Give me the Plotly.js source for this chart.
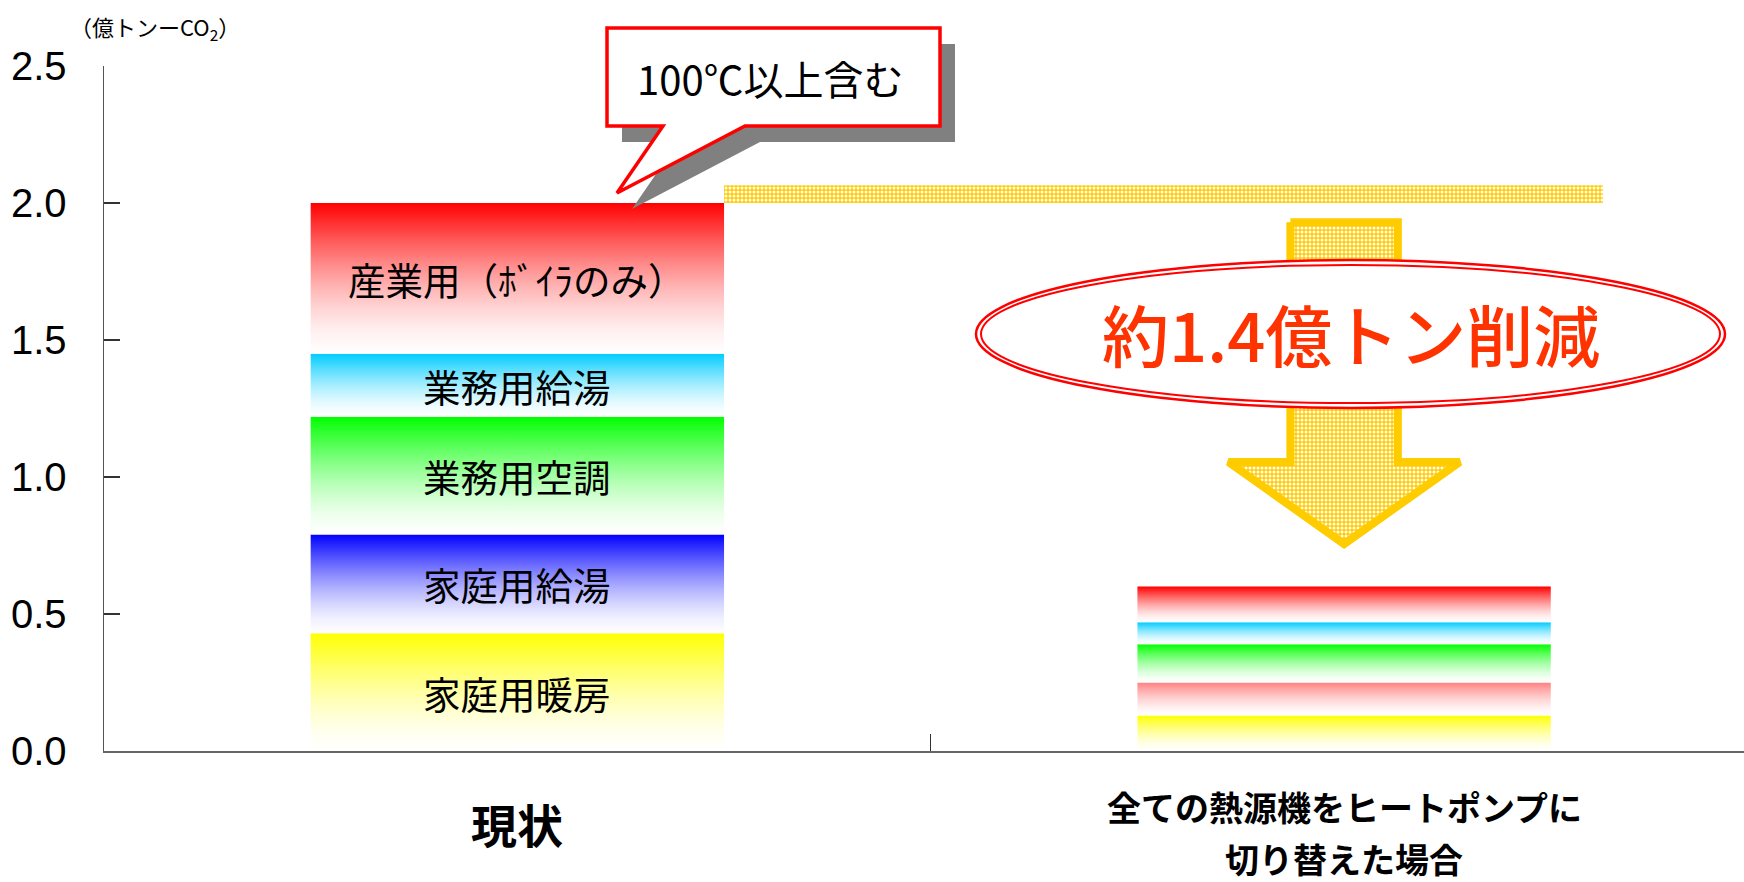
<!DOCTYPE html>
<html><head><meta charset="utf-8">
<script src="https://cdn.plot.ly/plotly-3.0.1.min.js"></script>
<style>html,body{margin:0;padding:0;background:#fff;} #chart{width:1744px;height:882px;}</style>
</head><body><div id="chart"></div>
<script>
// ---------- data ----------
const categories = ['現状', '全ての熱源機をヒートポンプに<br>切り替えた場合'];
const segments = ['家庭用暖房', '家庭用給湯', '業務用空調', '業務用給湯', '産業用（ﾎﾞｲﾗのみ）'];
const currentValues = [0.43, 0.36, 0.43, 0.23, 0.55];
const heatPumpValues = [0.13, 0.12, 0.14, 0.08, 0.13];
const yTickValues = [0, 0.5, 1.0, 1.5, 2.0, 2.5];
const yUnitText = '（億トンーCO<sub>2</sub>）';
const calloutText = '100℃以上含む';

// ---------- styles ----------
const currentColors = ['#FFFF00', '#0000FF', '#00FF00', '#00CCFF', '#FF0000'];
const heatPumpColors = ['#FFFF00', '#FF8080', '#00FF00', '#00CCFF', '#FF0000'];
const JP = '"Noto Sans CJK JP", "Noto Sans", sans-serif';
const NUM = '"Liberation Sans Narrow", "Arial Narrow", "Liberation Sans", Arial, sans-serif';

const W = 1744, H = 882, ML = 104, MR = 0, MT = 66, MB = 131;
const XR = [-0.5, 1.4837], YR = [0, 2.5];
const plotW = W - ML - MR, plotH = H - MT - MB;
const px2x = px => XR[0] + (px - ML) / plotW * (XR[1] - XR[0]);
const px2y = py => YR[0] + (H - MB - py) / plotH * (YR[1] - YR[0]);
const pX = px => (px - ML) / plotW;
const pY = py => (H - MB - py) / plotH;
const sum = a => a.reduce((s, v) => s + v, 0);

function hex2rgb(h) { h = h.replace('#', ''); return [0, 2, 4].map(i => parseInt(h.substr(i, 2), 16)); }
function gradScale(c) {
  const [r, g, b] = hex2rgb(c);
  return [0, 0.15, 0.3, 0.45, 0.6, 0.75, 0.9, 1].map(t => {
    const f = Math.pow(t, 1.5);
    const m = (v) => Math.round(255 + (v - 255) * f);
    return [t, `rgb(${m(r)},${m(g)},${m(b)})`];
  });
}

const barWidth = 0.5;
function stackTraces(values, colors, xc) {
  let base = 0;
  return values.map((v, i) => {
    const y0 = base, y1 = base + v; base = y1;
    const xl = xc - barWidth / 2, xr = xc + barWidth / 2;
    return {
      type: 'scatter', mode: 'none', x: [xl, xr, xr, xl, xl], y: [y0, y0, y1, y1, y0],
      fill: 'toself', fillcolor: colors[i],
      fillgradient: { type: 'vertical', colorscale: gradScale(colors[i]) },
      name: segments[i], hoverinfo: 'name', showlegend: false
    };
  });
}

const total0 = sum(currentValues), total1 = sum(heatPumpValues);
const traces = [].concat(stackTraces(currentValues, currentColors, 0), stackTraces(heatPumpValues, heatPumpColors, 1));

// dotted level band at the current total
const bandX0 = barWidth / 2, bandX1 = px2x(1603), bandY1 = total0 + 0.065;
traces.push({
  type: 'scatter', mode: 'none', xaxis: 'x2', yaxis: 'y',
  x: [bandX0, bandX1, bandX1, bandX0, bandX0], y: [total0, total0, bandY1, bandY1, total0],
  fill: 'toself', fillcolor: '#FFCC00',
  fillpattern: { shape: '.', bgcolor: '#FFCC00', fgcolor: '#FFFFFF', size: 4, solidity: 0.45 },
  hoverinfo: 'skip', showlegend: false
});

// reduction arrow
const ax = 1, sh = 0.065, hh = 0.14;
const yTop = total0 - 0.07, yTip = total1 + 0.155, yHead = yTip + 0.3;
traces.push({
  type: 'scatter', mode: 'lines',
  x: [ax - sh, ax + sh, ax + sh, ax + hh, ax, ax - hh, ax - sh, ax - sh],
  y: [yTop, yTop, yHead, yHead, yTip, yHead, yHead, yTop],
  line: { color: '#FFCC00', width: 8, shape: 'linear' },
  fill: 'toself', fillcolor: '#FFCC00',
  fillpattern: { shape: '.', bgcolor: '#FFCC00', fgcolor: '#FFFFFF', size: 4, solidity: 0.45 },
  hoverinfo: 'skip', showlegend: false
});

// ---------- shapes ----------
function pathPx(pts) { return 'M' + pts.map(p => pX(p[0]).toFixed(5) + ',' + pY(p[1]).toFixed(5)).join(' L') + ' Z'; }
const bubble = [[607, 28], [940, 28], [940, 126], [745, 126], [617, 193], [663, 126], [607, 126]];
const shadow = bubble.map(p => [p[0] + 15, p[1] + 16]);
const shapes = [
  { type: 'path', xref: 'paper', yref: 'paper', path: pathPx(shadow), fillcolor: '#808080', line: { width: 0 }, layer: 'above' },
  { type: 'path', xref: 'paper', yref: 'paper', path: pathPx(bubble), fillcolor: '#FFFFFF', line: { color: '#FF0000', width: 3.5 }, layer: 'above' },
  { type: 'circle', xref: 'x', yref: 'y', x0: px2x(976), x1: px2x(1725), y0: px2y(408), y1: px2y(260), fillcolor: '#FFFFFF', line: { color: '#FF0000', width: 2.5 }, layer: 'above' },
  { type: 'circle', xref: 'x', yref: 'y', x0: px2x(981), x1: px2x(1720), y0: px2y(403), y1: px2y(265), fillcolor: 'rgba(0,0,0,0)', line: { color: '#FF0000', width: 2 }, layer: 'above' }
];

// ---------- annotations ----------
const annotations = [];
annotations.push({ xref: 'paper', yref: 'paper', x: pX(68), y: pY(27), xanchor: 'left', yanchor: 'middle', text: yUnitText, showarrow: false, font: { family: JP, size: 22, color: '#000' } });
annotations.push({ xref: 'paper', yref: 'paper', x: pX(770), y: pY(78), xanchor: 'center', yanchor: 'middle', text: calloutText, showarrow: false, font: { family: JP, size: 40, color: '#000' } });
annotations.push({ xref: 'x', yref: 'y', x: px2x(1351), y: px2y(332), xanchor: 'center', yanchor: 'middle', text: '約' + (total0 - total1).toFixed(1) + '億トン削減', showarrow: false, font: { family: JP, size: 67, color: '#FF3300', weight: 500 } });
{
  let base = 0;
  currentValues.forEach((v, i) => {
    annotations.push({ xref: 'x', yref: 'y', x: 0, y: base + v / 2, text: segments[i], showarrow: false, xanchor: 'center', yanchor: 'middle', font: { family: JP, size: 37.5, color: '#000' } });
    base += v;
  });
}
annotations.push({ xref: 'x', yref: 'paper', x: 0, y: pY(823), text: categories[0], showarrow: false, xanchor: 'center', yanchor: 'middle', font: { family: JP, size: 46, color: '#000', weight: 'bold' } });
categories[1].split('<br>').forEach((line, k) => {
  annotations.push({ xref: 'x', yref: 'paper', x: 1, y: pY(806 + 52 * k), text: line, showarrow: false, xanchor: 'center', yanchor: 'middle', font: { family: JP, size: 34, color: '#000', weight: 'bold' } });
});

const layout = {
  width: W, height: H, margin: { l: ML, r: MR, t: MT, b: MB, pad: 0 },
  paper_bgcolor: '#FFFFFF', plot_bgcolor: '#FFFFFF', showlegend: false,
  xaxis: { range: XR, showgrid: false, zeroline: false, showline: true, linecolor: '#666666', linewidth: 2, ticks: '', showticklabels: false, fixedrange: true, automargin: false },
  xaxis2: { overlaying: 'x', anchor: 'y', side: 'bottom', range: XR, tickvals: [0.5], ticks: 'inside', ticklen: 17, tickwidth: 1.5, tickcolor: '#333333', showticklabels: false, showgrid: false, zeroline: false, showline: false, fixedrange: true, automargin: false },
  yaxis: { range: YR, tickvals: yTickValues, tickformat: '.1f', ticks: 'inside', ticklen: 16, tickwidth: 1.5, tickcolor: '#333333', showline: true, linecolor: '#555555', linewidth: 1.5, showgrid: false, zeroline: false, tickfont: { family: NUM, size: 40, color: '#000' }, ticklabelstandoff: 28, fixedrange: true, automargin: false },
  shapes: shapes, annotations: annotations
};

Plotly.newPlot('chart', traces, layout, { displayModeBar: false, staticPlot: true });
</script>
</body></html>
